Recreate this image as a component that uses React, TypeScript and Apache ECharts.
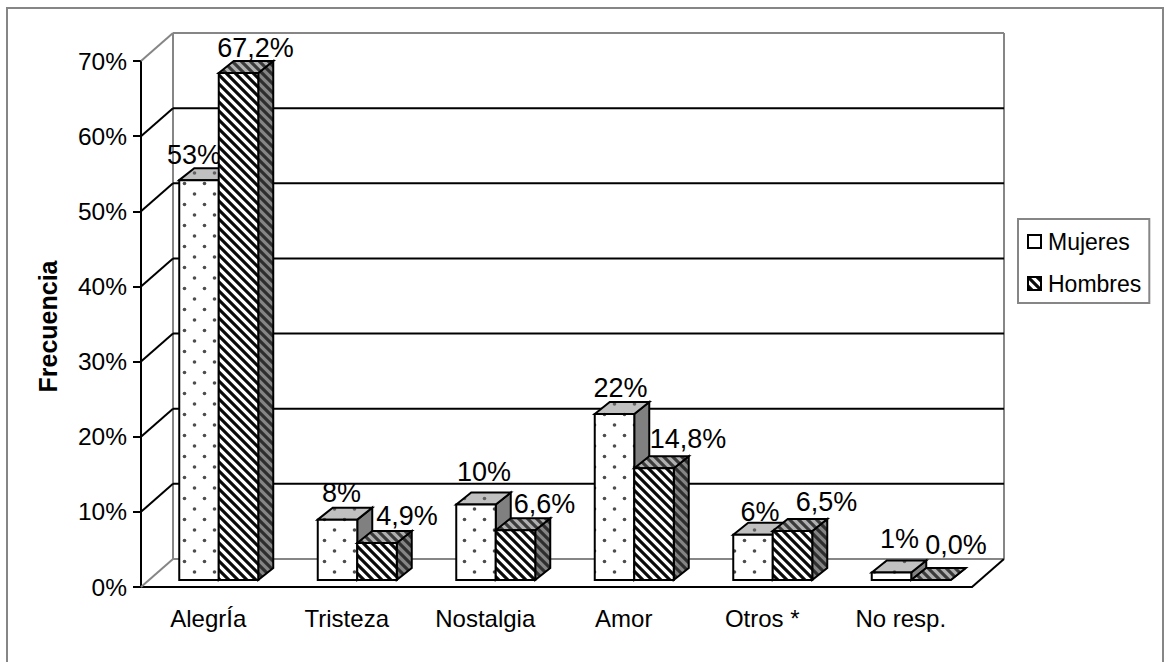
import React, { useEffect, useRef } from "react";
import * as echarts from "echarts";

const categories = ["AlegrÍa", "Tristeza", "Nostalgia", "Amor", "Otros *", "No resp."];
const mujeres = [53, 8, 10, 22, 6, 1];
const hombres = [67.2, 4.9, 6.6, 14.8, 6.5, 0.0];
const mujeresLabels = ["53%", "8%", "10%", "22%", "6%", "1%"];
const hombresLabels = ["67,2%", "4,9%", "6,6%", "14,8%", "6,5%", "0,0%"];
const yTicks = [0, 10, 20, 30, 40, 50, 60, 70];

// layout only: label offsets relative to the top-centre of each bar's front/back
const mujeresLabelShift = [[-5, -13], [4, -15], [8, -21], [6, -14], [7, -11], [8, -21]];
const hombresLabelShift = [[17, -13], [30, -15], [29, -14], [34, -17], [34, -17], [25, -23]];

const FONT = '"Liberation Sans", Arial, sans-serif';
const GRAY = "#868686";
const WALL_DX = 32;
const WALL_DY = 28;
const BAR_DX = 8.5;
const BAR_DY = 7;
const DEPTH_DX = 15;
const DEPTH_DY = 12;
const BAR_W = 39.5;
const BAR_SCALE = 1.004;

function dotTile(bg: string, dot: string) {
  const c = document.createElement("canvas");
  c.width = 20;
  c.height = 21;
  const g = c.getContext("2d")!;
  g.fillStyle = bg;
  g.fillRect(0, 0, 20, 21);
  g.filter = "blur(0.5px)";
  g.fillStyle = dot;
  g.beginPath();
  g.arc(4.5, 15.5, 1.8, 0, Math.PI * 2);
  g.closePath();
  g.fill();
  g.beginPath();
  g.arc(14.5, 5, 1.8, 0, Math.PI * 2);
  g.closePath();
  g.fill();
  return { image: c, repeat: "repeat" };
}

function stripeTile(light: string, dark: string) {
  const s = 9;
  const c = document.createElement("canvas");
  c.width = s;
  c.height = s;
  const g = c.getContext("2d")!;
  g.fillStyle = light;
  g.fillRect(0, 0, s, s);
  g.strokeStyle = dark;
  g.lineWidth = 3.2;
  g.filter = "blur(0.7px)";
  for (let k = -3; k <= 3; k++) {
    g.beginPath();
    g.moveTo(k * s - s, -s);
    g.lineTo(k * s + 2 * s, 2 * s);
    g.stroke();
  }
  return { image: c, repeat: "repeat" };
}

function barFaces(x: number, base: number, top: number, w: number, front: any, side: any, cap: any) {
  const edge = { stroke: "#000", lineWidth: 2, lineJoin: "miter" };
  const dx = DEPTH_DX;
  const dy = DEPTH_DY;
  return [
    { type: "polygon", shape: { points: [[x + w, top], [x + w + dx, top - dy], [x + w + dx, base - dy], [x + w, base]] }, style: { fill: side, ...edge } },
    { type: "polygon", shape: { points: [[x, top], [x + dx, top - dy], [x + w + dx, top - dy], [x + w, top]] }, style: { fill: cap, ...edge } },
    { type: "rect", shape: { x, y: top, width: w, height: base - top }, style: { fill: front, ...edge } },
  ];
}

export default function App() {
  const ref = useRef<HTMLDivElement>(null);

  useEffect(() => {
    const chart = echarts.init(ref.current!, null, { renderer: "svg" });

    const dotsFront = dotTile("#ffffff", "#4d4d4d");
    const dotsCap = dotTile("#c0c0c0", "#606060");
    const stripeFront = stripeTile("#ffffff", "#0a0a0a");
    const stripeCap = stripeTile("#b0b0b0", "#3a3a3a");
    const stripeSide = stripeTile("#858585", "#2e2e2e");

    const makeBars = (name: string, values: number[], labels: string[], shifts: number[][], side: number, front: any, sideFill: any, cap: any, z: number) => ({
      type: "custom",
      name,
      z,
      itemStyle: { color: front, borderColor: "#000", borderWidth: 2 },
      data: values.map((v, i) => [i, v]),
      encode: { x: 0, y: 1 },
      renderItem: (params: any, api: any) => {
        const i = api.value(0);
        const v = api.value(1);
        const p = api.coord([i, 0]);
        const h = api.size([0, v])[1] * BAR_SCALE;
        const x = p[0] + BAR_DX + (side < 0 ? -BAR_W : 0);
        const base = p[1] - BAR_DY;
        const top = base - h;
        const idx = params.dataIndex;
        const [sx, sy] = shifts[idx];
        return {
          type: "group",
          children: [
            ...barFaces(x, base, top, BAR_W, front, sideFill, cap),
            {
              type: "text",
              style: {
                text: labels[idx],
                x: x + BAR_W / 2 + sx,
                y: top - DEPTH_DY + sy,
                align: "center",
                verticalAlign: "middle",
                fontSize: 27,
                fontFamily: FONT,
                fill: "#000",
              },
            },
          ],
        };
      },
    });

    chart.setOption({
      animation: false,
      backgroundColor: "#ffffff",
      textStyle: { fontFamily: FONT },
      graphic: [
        { type: "polyline", z: -1, shape: { points: [[7, 662], [7, 8], [1163, 8], [1163, 662]] }, style: { fill: "none", stroke: GRAY, lineWidth: 2 } },
      ],
      grid: { left: 141, top: 61, width: 831, height: 526, containLabel: false },
      xAxis: {
        type: "category",
        data: categories,
        axisLine: { lineStyle: { color: "#000", width: 2 } },
        axisTick: { length: 8, lineStyle: { color: "#000", width: 2 } },
        axisLabel: { color: "#000", fontSize: 24, fontFamily: FONT, margin: 19, padding: [0, 4, 0, 0] },
      },
      yAxis: {
        type: "value",
        min: 0,
        max: 70,
        interval: 10,
        name: "Frecuencia",
        nameLocation: "middle",
        nameRotate: 90,
        nameGap: 81,
        nameTextStyle: { color: "#000", fontSize: 25, fontWeight: "bold", fontFamily: FONT, padding: [0, 5, 0, 0] },
        axisLine: { show: true, lineStyle: { color: "#000", width: 2 } },
        axisTick: { show: true, length: 8, lineStyle: { color: "#000", width: 2 } },
        axisLabel: { color: "#000", fontSize: 24.5, fontFamily: FONT, margin: 14, formatter: "{value}%" },
        splitLine: { show: false },
      },
      legend: {
        left: 1018,
        top: 219,
        orient: "vertical",
        data: ["Mujeres", "Hombres"],
        icon: "rect",
        itemWidth: 13,
        itemHeight: 13,
        itemGap: 19,
        padding: [11, 8, 8, 9],
        borderColor: GRAY,
        borderWidth: 2,
        textStyle: { color: "#000", fontSize: 23, fontFamily: FONT, padding: [0, 0, 0, 2] },
        selectedMode: false,
      },
      series: [
        {
          type: "custom",
          name: "walls",
          z: 1,
          silent: true,
          data: yTicks,
          encode: { y: 0 },
          renderItem: (params: any, api: any) => {
            const cs = params.coordSys;
            const t = api.value(0);
            const y = api.coord([0, t])[1];
            const xl = cs.x;
            const xr = cs.x + cs.width;
            const edge = t === 0 || t === 70;
            const color = edge ? GRAY : "#000";
            const children: any[] = [
              { type: "line", shape: { x1: xl, y1: y, x2: xl + WALL_DX, y2: y - WALL_DY }, style: { stroke: color, lineWidth: 2 } },
              { type: "line", shape: { x1: xl + WALL_DX, y1: y - WALL_DY, x2: xr + WALL_DX, y2: y - WALL_DY }, style: { stroke: color, lineWidth: 2 } },
            ];
            if (t === 0) {
              children.push(
                { type: "line", shape: { x1: xl + WALL_DX, y1: y - WALL_DY, x2: xl + WALL_DX, y2: cs.y - WALL_DY }, style: { stroke: GRAY, lineWidth: 2 } },
                { type: "line", shape: { x1: xr + WALL_DX, y1: y - WALL_DY, x2: xr + WALL_DX, y2: cs.y - WALL_DY }, style: { stroke: GRAY, lineWidth: 2 } },
                { type: "line", shape: { x1: xr, y1: y, x2: xr + WALL_DX, y2: y - WALL_DY }, style: { stroke: "#000", lineWidth: 2 } },
              );
            }
            return { type: "group", children };
          },
        },
        makeBars("Mujeres", mujeres, mujeresLabels, mujeresLabelShift, -1, dotsFront, "#808080", dotsCap, 2),
        makeBars("Hombres", hombres, hombresLabels, hombresLabelShift, 1, stripeFront, stripeSide, stripeCap, 3),
      ],
    });

    return () => chart.dispose();
  }, []);

  return <div ref={ref} style={{ position: "fixed", left: 0, top: 0, width: 1164, height: 662 }} />;
}
